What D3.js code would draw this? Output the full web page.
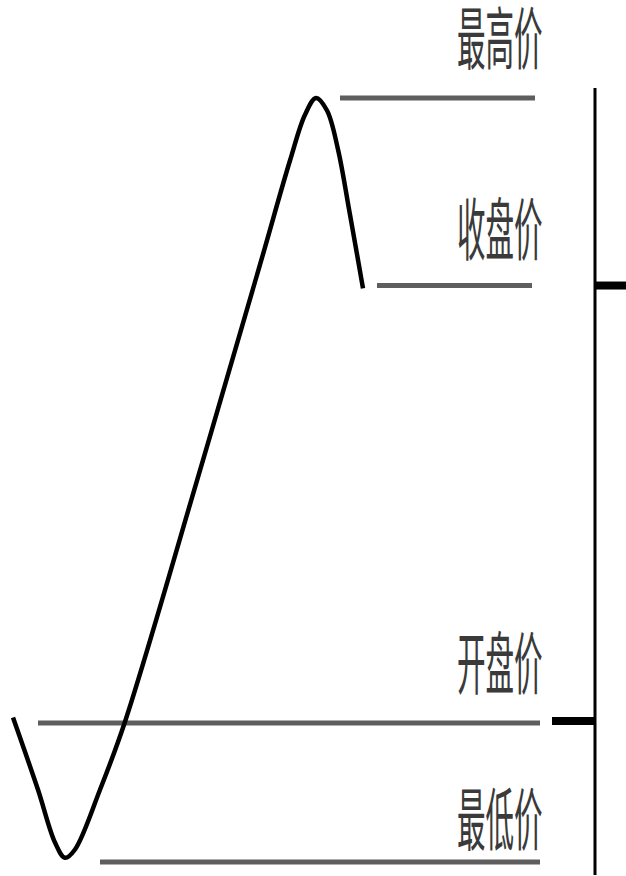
<!DOCTYPE html>
<html><head><meta charset="utf-8">
<script src="https://cdn.jsdelivr.net/npm/d3@7"></script>
<style>
html,body{margin:0;padding:0;background:#fff;}
#wrap{position:relative;width:626px;height:876px;overflow:hidden;}
svg{position:absolute;left:0;top:0;}
.lbl{position:absolute;width:200px;text-align:right;white-space:nowrap;
  font-family:"Noto Sans CJK SC";font-size:68px;line-height:60px;color:#3a3a3a;
  transform:scaleX(0.42);transform-origin:200px 0;}
</style>
</head><body>
<div id="wrap"></div>
<script>
// price path: time index and price
const pathTimes  = [0, 5, 8.4, 10.4, 12.4, 17.4, 22.4, 37.4, 49.4, 55.4, 58.4, 60.6, 62.8, 65, 67.4, 70];
const pathPrices = [11.04, 10.52, 10.14, 10.03, 10.09, 10.52, 11.01, 12.82, 14.30, 15.05, 15.38, 15.50, 15.41, 15.13, 14.66, 14.13];
// levels
const levelNames  = ["最高价", "收盘价", "开盘价", "最低价"];
const levelPrices = [15.5, 14.15, 11.0, 10.0];

const W = 626, H = 876;
const wrap = d3.select("#wrap");
const svg = wrap.append("svg").attr("width", W).attr("height", H);
const x = d3.scaleLinear().domain([0, 70]).range([13, 363]);
const y = d3.scaleLinear().domain([10, 15.5]).range([862, 98]);

// level segments (pixel extents, layout)
const segX = [[340, 535], [377, 532], [38, 540], [100, 540]];
const labelBottom = [72, 263, 697, 853];

levelPrices.forEach((p, i) => {
  svg.append("line")
    .attr("x1", segX[i][0]).attr("x2", segX[i][1])
    .attr("y1", y(p)).attr("y2", y(p))
    .attr("stroke", "#5e5e5e").attr("stroke-width", 5);
  wrap.append("div").attr("class", "lbl")
    .style("left", "341px")
    .style("top", (labelBottom[i] - 67) + "px")
    .text(levelNames[i]);
});

// price path
const pts = pathTimes.map((t, i) => [t, pathPrices[i]]);
svg.append("path")
  .attr("d", d3.line().x(d => x(d[0])).y(d => y(d[1])).curve(d3.curveCatmullRom.alpha(0.5))(pts))
  .attr("fill", "none").attr("stroke", "#000").attr("stroke-width", 4.5)
  .attr("stroke-linejoin", "round");

// candle-style axis on the right
svg.append("line").attr("x1", 595).attr("x2", 595).attr("y1", 88).attr("y2", 875)
  .attr("stroke", "#000").attr("stroke-width", 3);
svg.append("line").attr("x1", 595).attr("x2", 626)
  .attr("y1", y(levelPrices[1])).attr("y2", y(levelPrices[1]))
  .attr("stroke", "#000").attr("stroke-width", 8);
svg.append("line").attr("x1", 552).attr("x2", 595)
  .attr("y1", y(levelPrices[2]) - 2).attr("y2", y(levelPrices[2]) - 2)
  .attr("stroke", "#000").attr("stroke-width", 8);
</script>
</body></html>
